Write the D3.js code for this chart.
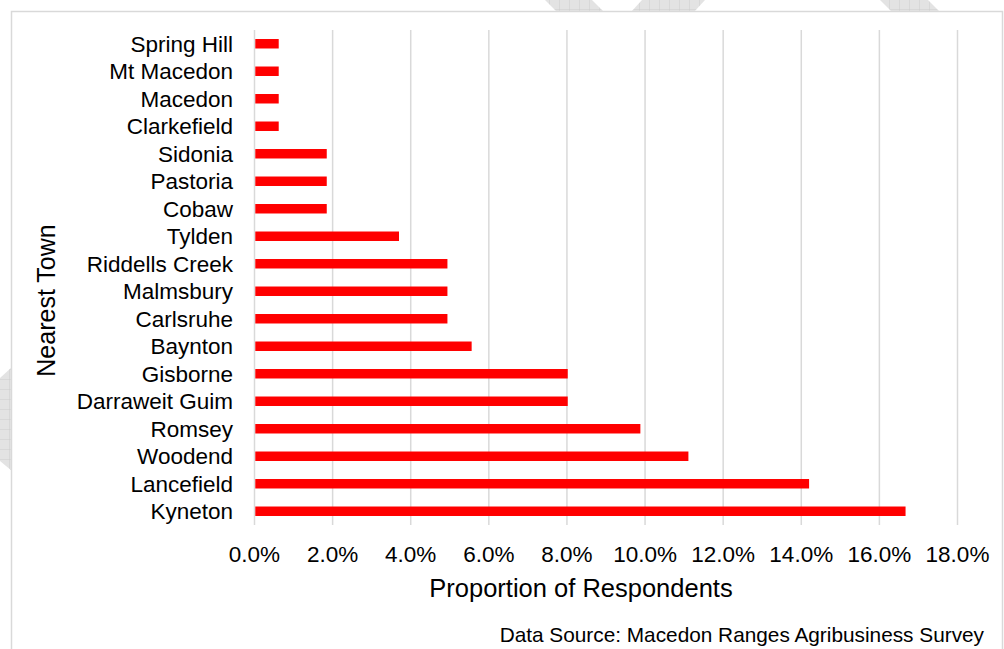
<!DOCTYPE html>
<html>
<head>
<meta charset="utf-8">
<script src="https://cdn.jsdelivr.net/npm/d3@7"></script>
<style>
  html, body { margin: 0; padding: 0; background: #fff; }
  svg { display: block; font-family: "Liberation Sans", Arial, sans-serif; }
</style>
</head>
<body>
<svg id="chart" width="1004" height="649"></svg>
<script>
// Towns listed top to bottom as drawn
const towns = ["Spring Hill", "Mt Macedon", "Macedon", "Clarkefield", "Sidonia", "Pastoria",
  "Cobaw", "Tylden", "Riddells Creek", "Malmsbury", "Carlsruhe", "Baynton", "Gisborne",
  "Darraweit Guim", "Romsey", "Woodend", "Lancefield", "Kyneton"];
// Share of respondents (%)
const shares = [0.62, 0.62, 0.62, 0.62, 1.85, 1.85, 1.85, 3.70, 4.94, 4.94, 4.94, 5.56,
  8.02, 8.02, 9.88, 11.11, 14.20, 16.67];
const xTicks = [0, 2, 4, 6, 8, 10, 12, 14, 16, 18];
const xTitle = "Proportion of Respondents";
const yTitle = "Nearest Town";
const sourceNote = "Data Source: Macedon Ranges Agribusiness Survey";

const svg = d3.select("#chart");

// page decoration: hatched grey shapes behind the chart frame
const defs = svg.append("defs");
const pat = defs.append("pattern").attr("id", "hatch").attr("patternUnits", "userSpaceOnUse")
  .attr("width", 10).attr("height", 10);
pat.append("rect").attr("width", 10).attr("height", 10).attr("fill", "#e3e3e3");
pat.append("path").attr("d", "M10,0V10M0,10H10").attr("stroke", "#cdcdcd").attr("stroke-width", 1);

const decor = [
  [[545, 0], [592, 0], [604, 12], [557, 12]],
  [[642, 0], [705, 0], [694, 12], [631, 12]],
  [[880, 0], [928, 0], [940, 12], [892, 12]],
  [[0, 378], [12, 367], [12, 471], [0, 461]]
];
svg.append("g").selectAll("path").data(decor).join("path")
  .attr("d", d => "M" + d.join("L") + "Z")
  .attr("fill", "url(#hatch)");

// chart frame
svg.append("rect").attr("x", 11.5).attr("y", 11.5).attr("width", 991).attr("height", 700)
  .attr("fill", "#fff").attr("stroke", "#d9d9d9").attr("stroke-width", 1.5);

const x = d3.scaleLinear().domain([0, 18]).range([254.5, 957.5]);
const y = d3.scaleBand().domain(towns).range([30, 525]).paddingInner(0.655).paddingOuter(0.3275);

// vertical gridlines
svg.append("g").selectAll("line").data(xTicks).join("line")
  .attr("x1", d => x(d)).attr("x2", d => x(d))
  .attr("y1", 30).attr("y2", 525)
  .attr("stroke", "#d9d9d9").attr("stroke-width", 1.5);

// bars
svg.append("g").selectAll("rect").data(towns).join("rect")
  .attr("x", x(0) + 0.8)
  .attr("y", d => y(d))
  .attr("width", (d, i) => x(shares[i]) - x(0) - 0.8)
  .attr("height", y.bandwidth())
  .attr("fill", "#ff0000");

// category labels
svg.append("g").selectAll("text").data(towns).join("text")
  .attr("x", 233)
  .attr("y", d => y(d) + y.bandwidth() / 2 + 8)
  .attr("text-anchor", "end")
  .attr("font-size", 22.5)
  .attr("fill", "#000")
  .text(d => d);

// x tick labels
svg.append("g").selectAll("text").data(xTicks).join("text")
  .attr("x", d => x(d))
  .attr("y", 562)
  .attr("text-anchor", "middle")
  .attr("font-size", 22.5)
  .attr("fill", "#000")
  .text(d => d3.format(".1f")(d) + "%");

// axis titles
svg.append("text")
  .attr("x", 581).attr("y", 597)
  .attr("text-anchor", "middle")
  .attr("font-size", 25.5)
  .attr("fill", "#000")
  .text(xTitle);

svg.append("text")
  .attr("transform", "translate(55,300.5) rotate(-90)")
  .attr("text-anchor", "middle")
  .attr("font-size", 25)
  .attr("fill", "#000")
  .text(yTitle);

// source note
svg.append("text")
  .attr("x", 984).attr("y", 641.5)
  .attr("text-anchor", "end")
  .attr("font-size", 20.8)
  .attr("fill", "#000")
  .text(sourceNote);
</script>
</body>
</html>
